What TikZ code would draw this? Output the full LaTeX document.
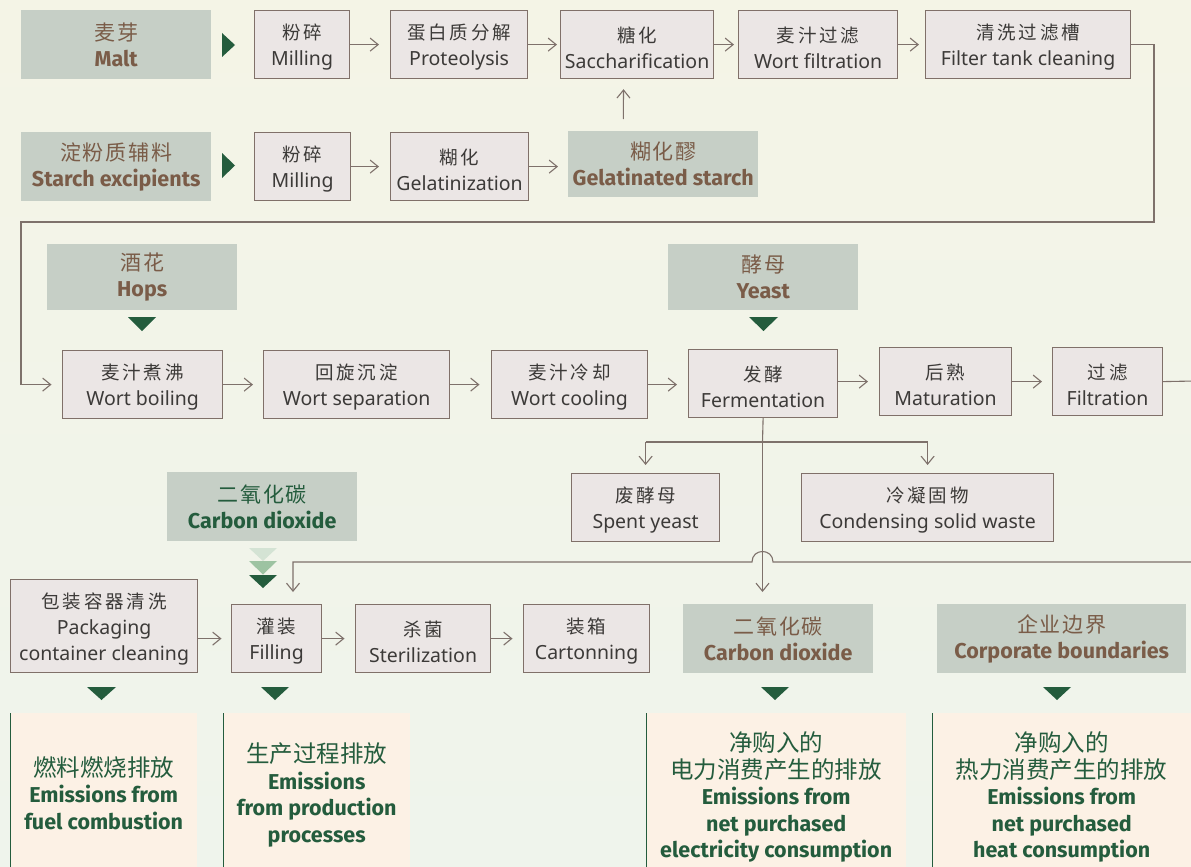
\documentclass[tikz,border=0pt]{standalone}
\usepackage{fontspec}
\setmainfont{Noto Sans}
\newfontfamily\cjk{Noto Sans CJK SC}[LetterSpace=15]
\newfontfamily\cjklab{Noto Sans CJK SC}[LetterSpace=8]
\newfontfamily\cjkem{Noto Sans CJK SC}
\newfontfamily\lab{Fira Sans}
\usetikzlibrary{arrows.meta}
\definecolor{bgtop}{HTML}{F4F4E6}
\definecolor{bgbot}{HTML}{EFF4EC}
\definecolor{procfill}{HTML}{EBE6E5}
\definecolor{procedge}{HTML}{807069}
\definecolor{inpfill}{HTML}{C6CFC6}
\definecolor{lbrown}{HTML}{7A5C48}
\definecolor{dgreen}{HTML}{245C3D}
\definecolor{triA}{HTML}{D4E3D4}
\definecolor{triB}{HTML}{9DC3A2}
\definecolor{emfill}{HTML}{FCF1E5}
\definecolor{txtc}{HTML}{3C3A38}
\definecolor{linec}{HTML}{7E716B}
\newcommand\pcj[1]{{\cjk\fontsize{18.5}{26}\selectfont\rule{0pt}{21pt}#1}}
\newcommand\pl[2]{\pcj{#1}\\#2}
\newcommand\il[2]{{\cjklab\fontsize{21}{26}\selectfont #1}\\{\lab\bfseries\fontsize{21.5}{26}\selectfont #2}}
\newcommand\emc[1]{{\cjkem\fontsize{23.5}{27}\selectfont #1}}
\newcommand\eml[1]{{\lab\bfseries\fontsize{21.5}{26.5}\selectfont #1}}
\begin{document}
\begin{tikzpicture}[x=1pt,y=-1pt,
  pbox/.style={draw=procedge, fill=procfill, line width=1.2pt, inner sep=0pt, align=center, anchor=north west, text=txtc, font=\fontsize{19.5}{26}\selectfont},
  ibox/.style={fill=inpfill, inner sep=0pt, align=center, anchor=north west, text=lbrown, font=\fontsize{20.5}{26}\selectfont},
  ebox/.style={fill=emfill, inner sep=0pt, align=center, anchor=north west, text=dgreen, font=\fontsize{20}{26.5}\selectfont},
  conn/.style={draw=linec, line width=1.1pt},
  arr/.style={conn, -{Straight Barb[length=8pt,width=13pt]}, shorten >=10pt},
  tri/.style={fill=dgreen, draw=none}]
\useasboundingbox (0,0) rectangle (1191,867);
\clip (0,0) rectangle (1191,867);
\shade[top color=bgtop, bottom color=bgbot] (0,0) rectangle (1191,867);

% ---- row 1
\node[ibox, minimum width=190pt, minimum height=69pt] (malt) at (21,10) {\il{麦芽}{Malt}};
\node[pbox, minimum width=95pt, minimum height=68pt] (mill1) at (254,10) {\pl{粉碎}{Milling}};
\node[pbox, minimum width=137pt, minimum height=68pt] (prot) at (390,10) {\pl{蛋白质分解}{Proteolysis}};
\node[pbox, minimum width=153pt, minimum height=68pt] (sacc) at (560,10) {\pl{糖化}{Saccharification}};
\node[pbox, minimum width=159pt, minimum height=68pt] (wfilt) at (738,10) {\pl{麦汁过滤}{Wort filtration}};
\node[pbox, minimum width=205pt, minimum height=68pt] (ftank) at (925,10) {\pl{清洗过滤槽}{Filter tank cleaning}};
% ---- row 2
\node[ibox, minimum width=190pt, minimum height=69pt] (starch) at (21,132) {\il{淀粉质辅料}{Starch excipients}};
\node[pbox, minimum width=96pt, minimum height=68pt] (mill2) at (254,132) {\pl{粉碎}{Milling}};
\node[pbox, minimum width=138pt, minimum height=68pt] (gelat) at (390,132) {\pl{糊化}{Gelatinization}};
\node[ibox, minimum width=190pt, minimum height=66pt] (gstarch) at (568,131) {\il{糊化醪}{Gelatinated starch}};
% ---- row 3
\node[ibox, minimum width=190pt, minimum height=66pt] (hops) at (47,244) {\il{酒花}{Hops}};
\node[ibox, minimum width=190pt, minimum height=66pt] (yeast) at (668,244) {\il{酵母}{Yeast}};
\node[pbox, minimum width=160pt, minimum height=68pt] (boil) at (62,350) {\pl{麦汁煮沸}{Wort boiling}};
\node[pbox, minimum width=186pt, minimum height=68pt] (sep) at (263,350) {\pl{回旋沉淀}{Wort separation}};
\node[pbox, minimum width=156pt, minimum height=68pt] (cool) at (491,350) {\pl{麦汁冷却}{Wort cooling}};
\node[pbox, minimum width=149pt, minimum height=68pt] (ferm) at (688,349) {\pl{发酵}{Fermentation}};
\node[pbox, minimum width=132pt, minimum height=68pt] (matur) at (879,347) {\pl{后熟}{Maturation}};
\node[pbox, minimum width=110pt, minimum height=68pt] (filtr) at (1052,347) {\pl{过滤}{Filtration}};
% ---- row 4
\node[pbox, minimum width=148pt, minimum height=68pt] (spent) at (571,473) {\pl{废酵母}{Spent yeast}};
\node[pbox, minimum width=252pt, minimum height=68pt] (cond) at (801,473) {\pl{冷凝固物}{Condensing solid waste}};
\node[ibox, minimum width=190pt, minimum height=69pt, text=dgreen] (co2a) at (167,472) {\il{二氧化碳}{Carbon dioxide}};
% ---- row 5
\node[pbox, minimum width=187pt, minimum height=93pt] (pack) at (10,579) {\pcj{包装容器清洗}\\Packaging\\container cleaning};
\node[pbox, minimum width=90pt, minimum height=68pt] (fill) at (231,604) {\pl{灌装}{Filling}};
\node[pbox, minimum width=135pt, minimum height=68pt] (steril) at (355,604) {\pl{杀菌}{Sterilization}};
\node[pbox, minimum width=126pt, minimum height=68pt] (carton) at (523,604) {\pl{装箱}{Cartonning}};
\node[ibox, minimum width=190pt, minimum height=69pt] (co2b) at (683,604) {\il{二氧化碳}{Carbon dioxide}};
\node[ibox, minimum width=249pt, minimum height=69pt] (corp) at (937,604) {\il{企业边界}{Corporate boundaries}};
% ---- emission boxes
\node[ebox, minimum width=187pt, minimum height=160pt] (e1) at (10,713) {\emc{燃料燃烧排放}\\\eml{Emissions from}\\\eml{fuel combustion}};
\node[ebox, minimum width=187pt, minimum height=164pt] (e2) at (223,713) {\emc{生产过程排放}\\\eml{Emissions}\\\eml{from production}\\\eml{processes}};
\node[ebox, minimum width=260pt, minimum height=168pt] (e3) at (646,713) {\emc{净购入的}\\\emc{电力消费产生的排放}\\\eml{Emissions from}\\\eml{net purchased}\\\eml{electricity consumption}};
\node[ebox, minimum width=259pt, minimum height=168pt] (e4) at (932,713) {\emc{净购入的}\\\emc{热力消费产生的排放}\\\eml{Emissions from}\\\eml{net purchased}\\\eml{heat consumption}};
\draw[dgreen, line width=1pt] (e1.north west) -- (e1.south west);
\draw[dgreen, line width=1pt] (e2.north west) -- (e2.south west);
\draw[dgreen, line width=1pt] (e3.north west) -- (e3.south west);
\draw[dgreen, line width=1pt] (e4.north west) -- (e4.south west);

% ---- triangles
\fill[tri] (222,33) -- (235,45) -- (222,57) -- cycle;
\fill[tri] (222,153) -- (235,165.5) -- (222,178) -- cycle;
\fill[tri] (128,317) -- (156,317) -- (142,331) -- cycle;
\fill[tri] (749,317) -- (778,317) -- (763.5,331) -- cycle;
\fill[triA] (249,548) -- (277,548) -- (263,561) -- cycle;
\fill[triB] (249,561) -- (277,561) -- (263,574.5) -- cycle;
\fill[tri] (249,575) -- (277,575) -- (263,588) -- cycle;
\fill[tri] (87,687) -- (116,687) -- (101.5,700) -- cycle;
\fill[tri] (261,687) -- (289,687) -- (275,700) -- cycle;
\fill[tri] (761,687) -- (789,687) -- (775,700) -- cycle;
\fill[tri] (1043,687) -- (1071,687) -- (1057,700) -- cycle;

% ---- connectors
\draw[arr, shorten >=11pt] (mill1.east) -- (prot.west);
\draw[arr, shorten >=3pt] (prot.east) -- (sacc.west);
\draw[arr, shorten >=4pt] (sacc.east) -- (wfilt.west);
\draw[arr, shorten >=6pt] (wfilt.east) -- (ftank.west);
\draw[arr, shorten >=11pt] (mill2.east) -- (gelat.west);
\draw[arr] (gelat.east) -- (gelat.east -| gstarch.west);
\draw[arr, shorten <=12pt] ([xshift=-40pt]gstarch.north) -- ([xshift=-13.5pt]sacc.south);
\coordinate (r1) at (1154,222);
\coordinate (l1) at (21,222);
\draw[arr, shorten >=10.5pt] (ftank.east) -| (r1) -- (l1) |- (boil.west);
\draw[arr] (boil.east) -- (sep.west);
\draw[arr, shorten >=11.5pt] (sep.east) -- (cool.west);
\draw[arr, shorten >=11pt] (cool.east) -- (cool.east -| ferm.west);
\draw[arr, shorten >=11pt] (ferm.east |- matur.west) -- (matur.west);
\draw[arr] (matur.east) -- (filtr.west);
\coordinate (offr) at (1195,381);
\draw[conn] (filtr.east) -- (offr);
\coordinate (br) at (762.5,442);
\draw[conn] (ferm.south) -- (br);
\draw[conn] (spent.north |- br) -- (cond.north |- br);
\draw[arr, shorten >=8pt] (spent.north |- br) -- (spent.north);
\draw[arr, shorten >=8pt] (cond.north |- br) -- (cond.north);
\draw[arr, shorten >=12pt] (br) -- (br |- co2b.north);
\coordinate (offr2) at (1195,562);
\coordinate (fillin) at (293,562);
\draw[arr, shorten >=12pt] (offr2) -- (773,562) .. controls (773,548) and (752,548) .. (752,562) -- (fillin) -- (fillin |- fill.north);
\draw[arr, shorten >=9.5pt] (pack.east |- fill.west) -- (fill.west);
\draw[arr, shorten >=10.5pt] (fill.east) -- (steril.west);
\draw[arr, shorten >=10.5pt] (steril.east) -- (carton.west);
\end{tikzpicture}
\end{document}
